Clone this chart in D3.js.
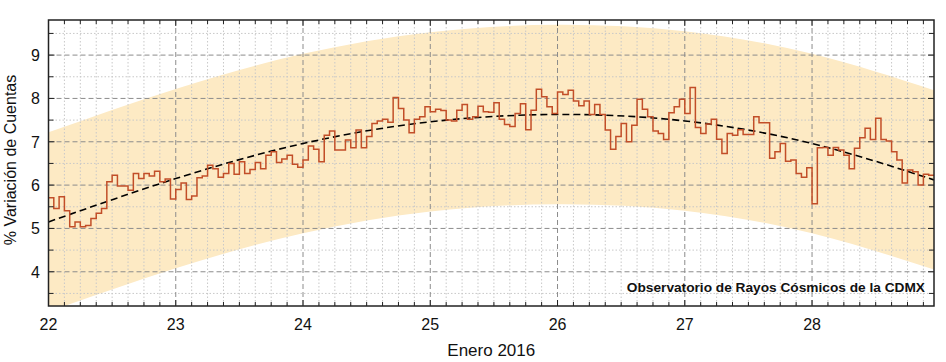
<!DOCTYPE html>
<html>
<head>
<meta charset="utf-8">
<script src="https://cdn.jsdelivr.net/npm/d3@7"></script>
<style>
  body { margin: 0; background: #fff; }
  text { font-family: "Liberation Sans", Arial, sans-serif; }
</style>
</head>
<body>
<svg id="chart"></svg>
<script>
// hourly % variation, starting 22 Jan 2016 00:00
const startDay = 22;
const counts = [
  5.71, 5.46, 5.73, 5.41, 5.04, 5.15, 5.04, 5.07, 5.23, 5.35, 5.46, 6.08,
  6.23, 5.98, 5.98, 5.88, 6.27, 6.15, 6.27, 6.21, 6.32, 6.08, 6.14, 5.68,
  5.90, 6.05, 5.67, 5.75, 6.17, 6.21, 6.46, 6.38, 6.18, 6.27, 6.50, 6.25,
  6.54, 6.27, 6.36, 6.52, 6.38, 6.69, 6.77, 6.52, 6.60, 6.69, 6.48, 6.41,
  6.58, 6.90, 6.83, 6.54, 7.15, 7.25, 6.81, 6.81, 7.04, 6.86, 7.27, 6.86,
  7.12, 7.42, 7.48, 7.52, 7.45, 8.02, 7.77, 7.50, 7.21, 7.52, 7.58, 7.81,
  7.69, 7.75, 7.72, 7.50, 7.48, 7.73, 7.86, 7.52, 7.58, 7.82, 7.69, 7.68,
  7.90, 7.52, 7.40, 7.35, 7.65, 7.88, 7.28, 7.73, 8.21, 8.04, 7.81, 7.65,
  8.15, 8.09, 8.19, 7.94, 7.83, 7.94, 7.63, 7.86, 7.63, 7.27, 6.83, 7.12,
  7.42, 7.00, 7.38, 7.98, 7.75, 7.58, 7.25, 7.19, 7.05, 7.67, 7.81, 7.98,
  7.65, 8.25, 7.33, 7.19, 7.41, 7.52, 7.06, 6.73, 7.19, 7.15, 7.28, 7.17,
  7.17, 7.58, 7.44, 7.44, 6.62, 6.77, 6.96, 6.55, 6.58, 6.27, 6.18, 6.40,
  5.57, 6.86, 6.87, 6.69, 6.87, 6.81, 6.69, 6.38, 6.85, 7.09, 7.31, 7.05,
  7.54, 7.05, 7.02, 6.77, 6.58, 6.05, 6.35, 6.31, 6.00, 6.25, 6.23, 6.23
];

// fitted trend and its confidence band (read at each day)
const fitDays  = [22, 23, 24, 25, 26, 27, 28, 28.958];
const fitVals  = [5.15, 6.15, 6.96, 7.46, 7.63, 7.48, 6.96, 6.12];
const bandHigh = [7.22, 8.22, 9.03, 9.53, 9.70, 9.55, 9.03, 8.19];
const bandLow  = [3.08, 4.08, 4.89, 5.39, 5.56, 5.41, 4.89, 4.05];

const xTicks = [22, 23, 24, 25, 26, 27, 28];
const yTicks = [4, 5, 6, 7, 8, 9];

const width = 946, height = 362;
const mLeft = 48.5, mRight = 934, mTop = 20, mBottom = 306;

const svg = d3.select('#chart').attr('width', width).attr('height', height);

const x = d3.scaleLinear().domain([22, 22 + 167 / 24]).range([mLeft, mRight]);
const y = d3.scaleLinear().domain([3.21, 9.81]).range([mBottom, mTop]);

svg.append('clipPath').attr('id', 'plot')
    .append('rect').attr('x', mLeft).attr('y', mTop)
    .attr('width', mRight - mLeft).attr('height', mBottom - mTop);

const g = svg.append('g').attr('clip-path', 'url(#plot)');

// band
const band = fitDays.map((d, i) => ({d, hi: bandHigh[i], lo: bandLow[i]}));
g.append('path')
    .attr('d', d3.area().x(d => x(d.d)).y0(d => y(d.lo)).y1(d => y(d.hi))
        .curve(d3.curveNatural)(band))
    .attr('fill', '#fdeac4');

// minor grid
const xMinor = d3.range(22, 29, 1 / 8).filter(v => Math.abs(v - Math.round(v)) > 1e-6);
const yMinor = d3.range(3.5, 10, 1);
g.selectAll('.xminor').data(xMinor).join('line')
    .attr('x1', d => x(d)).attr('x2', d => x(d)).attr('y1', mTop).attr('y2', mBottom)
    .attr('stroke', '#c8c8c8').attr('stroke-dasharray', '1.5,2');
g.selectAll('.yminor').data(yMinor).join('line')
    .attr('y1', d => y(d)).attr('y2', d => y(d)).attr('x1', mLeft).attr('x2', mRight)
    .attr('stroke', '#c8c8c8').attr('stroke-dasharray', '1.5,2');

// major grid
g.selectAll('.xmajor').data(xTicks.slice(1)).join('line')
    .attr('x1', d => x(d)).attr('x2', d => x(d)).attr('y1', mTop).attr('y2', mBottom)
    .attr('stroke', '#8c8c8c').attr('stroke-dasharray', '5,3');
g.selectAll('.ymajor').data(yTicks).join('line')
    .attr('y1', d => y(d)).attr('y2', d => y(d)).attr('x1', mLeft).attr('x2', mRight)
    .attr('stroke', '#8c8c8c').attr('stroke-dasharray', '5,3');

// fit line
const fit = fitDays.map((d, i) => ({d, v: fitVals[i]}));
g.append('path')
    .attr('d', d3.line().x(d => x(d.d)).y(d => y(d.v)).curve(d3.curveNatural)(fit))
    .attr('fill', 'none').attr('stroke', '#000').attr('stroke-width', 1.6)
    .attr('stroke-dasharray', '7,4');

// hourly steps
const series = counts.map((v, i) => ({t: startDay + i / 24, v}));
g.append('path')
    .attr('d', d3.line().x(d => x(d.t)).y(d => y(d.v)).curve(d3.curveStepAfter)(series))
    .attr('fill', 'none').attr('stroke', '#c24e28').attr('stroke-width', 1.5);

// inward ticks on all sides
const tickG = svg.append('g').attr('stroke', '#222').attr('stroke-width', 1);
const xAll = d3.range(22, 29, 1 / 8);
xAll.forEach(v => {
    const major = Math.abs(v - Math.round(v)) < 1e-6;
    const len = major ? 6 : 4;
    tickG.append('line').attr('x1', x(v)).attr('x2', x(v)).attr('y1', mBottom).attr('y2', mBottom - len);
    tickG.append('line').attr('x1', x(v)).attr('x2', x(v)).attr('y1', mTop).attr('y2', mTop + len);
});
d3.range(3.5, 10, 0.5).forEach(v => {
    const major = Math.abs(v - Math.round(v)) < 1e-6;
    const len = major ? 6 : 5;
    tickG.append('line').attr('x1', mLeft).attr('x2', mLeft + len).attr('y1', y(v)).attr('y2', y(v));
    tickG.append('line').attr('x1', mRight).attr('x2', mRight - len).attr('y1', y(v)).attr('y2', y(v));
});

// frame
svg.append('rect').attr('x', mLeft).attr('y', mTop)
    .attr('width', mRight - mLeft).attr('height', mBottom - mTop)
    .attr('fill', 'none').attr('stroke', '#222').attr('stroke-width', 1.5);

// tick labels
svg.selectAll('.xl').data(xTicks).join('text')
    .attr('x', d => x(d)).attr('y', 330)
    .attr('text-anchor', 'middle').attr('font-size', 16).attr('fill', '#111')
    .text(d => d);
svg.selectAll('.yl').data(yTicks).join('text')
    .attr('x', 40).attr('y', d => y(d) + 6)
    .attr('text-anchor', 'end').attr('font-size', 16).attr('fill', '#111')
    .text(d => d);

// titles
svg.append('text').attr('x', (mLeft + mRight) / 2).attr('y', 356)
    .attr('text-anchor', 'middle').attr('font-size', 17).attr('fill', '#111')
    .text('Enero 2016');
svg.append('text')
    .attr('transform', `translate(16,160) rotate(-90)`)
    .attr('text-anchor', 'middle').attr('font-size', 16).attr('fill', '#111')
    .text('% Variación de Cuentas');

svg.append('text').attr('x', 925).attr('y', 292)
    .attr('text-anchor', 'end').attr('font-size', 13.7).attr('font-weight', 'bold')
    .attr('fill', '#111')
    .text('Observatorio de Rayos Cósmicos de la CDMX');
</script>
</body>
</html>
